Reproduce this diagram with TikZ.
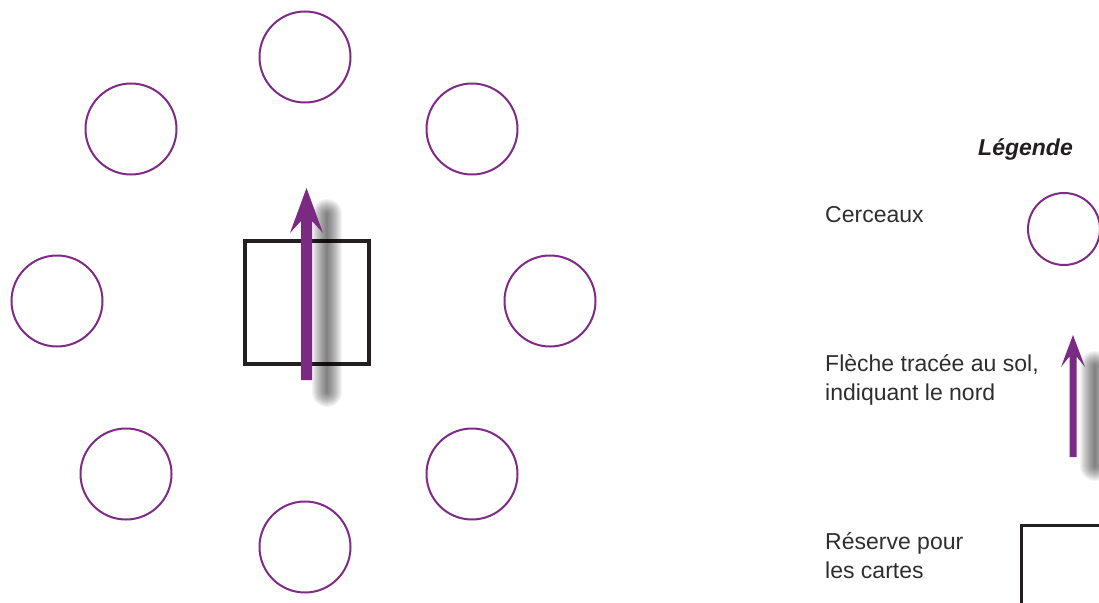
\documentclass[tikz,border=0pt]{standalone}
\usepackage{fontspec}
\setmainfont{Liberation Sans}
\definecolor{hoopc}{HTML}{7D2B85}
\definecolor{arrowc}{HTML}{7B2A83}
\definecolor{inkc}{HTML}{231F20}
\definecolor{textc}{HTML}{2E2E2E}
\tikzset{
  hoop/.style={circle, draw=hoopc, line width=2pt, inner sep=0pt, minimum size=#1},
  hoop/.default=91pt,
  cardbox/.style={rectangle, draw=inkc, line width=3.5pt, inner sep=0pt},
  lbl/.style={anchor=base west, inner sep=0pt, text=textc, font=\fontsize{23}{29}\selectfont, align=left},
  arrowfill/.style={fill=arrowc, draw=none},
}
\newcommand{\shadowstroke}[3]{% x, ytop, ybottom
  \foreach \w in {2,4,...,30}{
    \draw[line width=\w pt, black, opacity=0.045, line cap=round] (#1,#2) -- (#1,#3);
  }
}
\begin{document}
\begin{tikzpicture}[x=1pt,y=-1pt]
\useasboundingbox (0,0) rectangle (1099,602);
\clip (0,0) rectangle (1099,602);
% hoops
\node[hoop] (h1) at (305,57) {};
\node[hoop] (h2) at (131,129) {};
\node[hoop] (h3) at (472,129) {};
\node[hoop] (h4) at (57,301) {};
\node[hoop] (h5) at (550,301) {};
\node[hoop] (h6) at (126,474) {};
\node[hoop] (h7) at (472,474) {};
\node[hoop] (h8) at (305,547) {};
% card box
\node[cardbox, minimum width=124pt, minimum height=123pt] (box) at (307,302.5) {};
% main arrow shadow
\shadowstroke{327}{214}{392}
% main arrow
\fill[arrowfill] (301,380) -- (301,221) -- (290,233) -- (306.5,188) -- (323,233) -- (312,221) -- (312,380) -- cycle;
% legend
\node[anchor=base east, inner sep=0pt, text=inkc, font=\fontsize{23}{29}\selectfont\bfseries\itshape] (leg) at (1073,155) {Légende};
\node[lbl] (t1) at (825,222) {Cerceaux};
\node[hoop=72pt] (lh) at (1064,229) {};
\node[lbl] (t2) at (825,400) {Flèche tracée au sol,\\indiquant le nord};
\shadowstroke{1095}{366}{466}
\fill[arrowfill] (1069.5,457) -- (1069.5,356.5) -- (1061,367) -- (1073,335) -- (1085,367) -- (1076.5,356.5) -- (1076.5,457) -- cycle;
\node[lbl] (t3) at (825,578) {Réserve pour\\les cartes};
\draw[inkc, line width=3pt] (1140,525.5) -- (1021,525.5) -- (1021,640);
\end{tikzpicture}
\end{document}
